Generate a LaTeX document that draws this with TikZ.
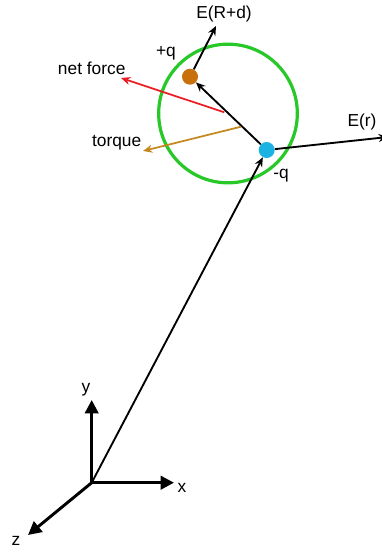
\documentclass[tikz,border=0pt]{standalone}
\usepackage{fontspec}
\setmainfont{Liberation Sans}
\usetikzlibrary{arrows.meta}
\definecolor{ringgreen}{RGB}{40,200,40}
\definecolor{forcered}{RGB}{237,28,36}
\definecolor{torquebrown}{RGB}{196,136,30}
\definecolor{posorange}{RGB}{200,112,12}
\definecolor{negblue}{RGB}{28,178,226}
\begin{document}
\begin{tikzpicture}[x=0.75pt,y=-0.75pt]
\path[use as bounding box] (0,0) rectangle (382,554);
\tikzstyle{lbl}=[font=\fontsize{13}{15}\selectfont, inner sep=0pt]
\tikzstyle{charge}=[circle, inner sep=0pt, minimum size=12pt]
\tikzstyle{vec}=[-{Stealth[length=7pt,width=6pt]}, line width=1.4pt]
\tikzstyle{axis}=[-{Triangle[length=10pt,width=10pt]}, line width=2.2pt]

% dipole ring and charges
\node[circle, draw=ringgreen, line width=2.4pt, minimum size=104pt, inner sep=0pt] (ring) at (228,113.5) {};
\node[charge, fill=negblue] (neg) at (266.7,150) {};
\node[charge, fill=posorange] (pos) at (190,76.7) {};

% axes
\coordinate (O) at (91.7,482.7);
\coordinate (xtip) at (174,482.7);
\coordinate (ytip) at (91.7,400);
\coordinate (ztip) at (28,535);
\draw[axis] (O) -- (xtip);
\draw[axis] (O) -- (ytip);
\draw[axis] (O) -- (ztip);
\node[lbl] (xlab) at (182,488) {x};
\node[lbl] (ylab) at (86,390) {y};
\node[lbl] (zlab) at (16,541) {z};

% position and field vectors
\coordinate (erd) at (216,26);
\coordinate (er) at (388,137);
\draw[vec] (O) -- (neg);
\draw[vec] (neg) -- (pos);
\draw[vec] (pos) -- (erd);
\draw[vec] (neg) -- (er);
\node[lbl] (erdlab) at (224,14) {E(R+d)};
\node[lbl] (erlab) at (362,122) {E(r)};
\node[lbl] (poslab) at (166,53) {+q};
\node[lbl] (neglab) at (281,176) {-q};

% net force and torque
\coordinate (nfa) at (224.3,112.3);
\coordinate (nfb) at (121,78);
\coordinate (tqa) at (241,126.7);
\coordinate (tqb) at (143,151);
\draw[vec, forcered, line width=1.3pt] (nfa) -- (nfb);
\draw[vec, torquebrown, line width=1.3pt] (tqa) -- (tqb);
\node[lbl] (nflab) at (91.7,68) {net force};
\node[lbl] (tqlab) at (116.7,142.5) {torque};
\end{tikzpicture}
\end{document}
